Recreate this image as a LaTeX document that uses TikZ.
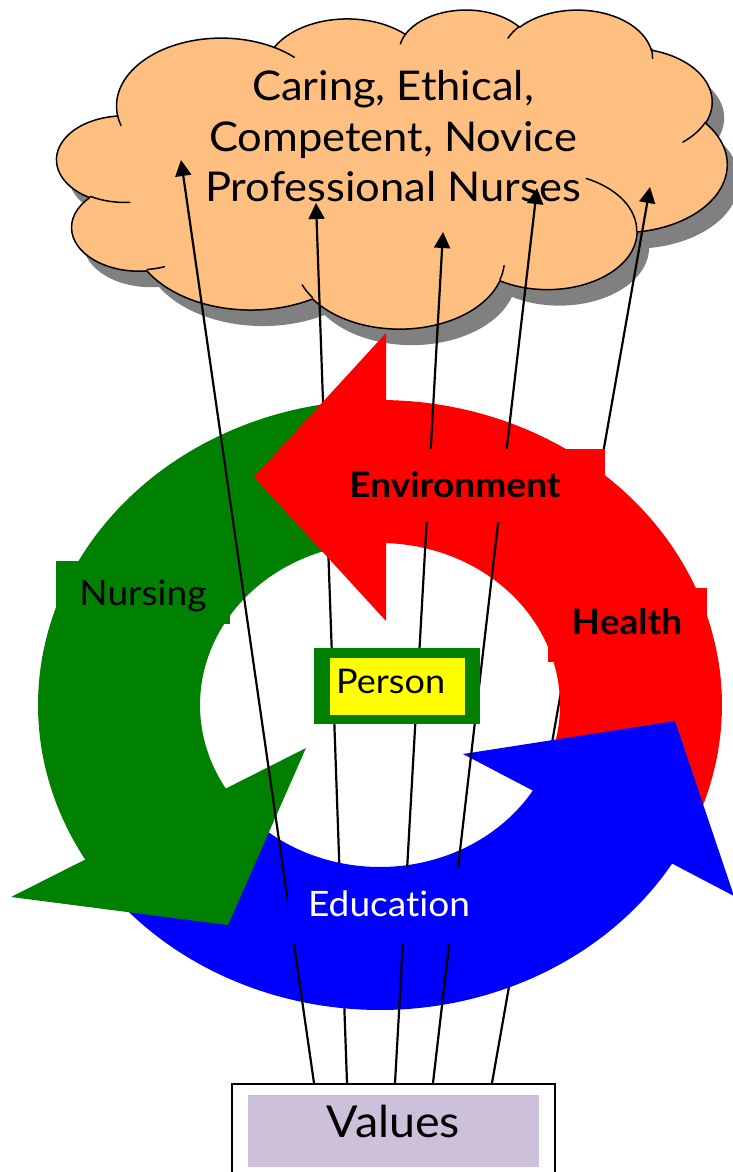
\documentclass[tikz,border=0pt]{standalone}
\usepackage{graphicx}
\usepackage{fontspec}
\setmainfont{Lato}[Ligatures=NoCommon]
\usetikzlibrary{arrows.meta}
\definecolor{cloudfill}{RGB}{255,191,128}
\definecolor{pgreen}{RGB}{0,128,0}
\definecolor{pred}{RGB}{255,0,0}
\definecolor{pblue}{RGB}{0,0,255}
\definecolor{pyellow}{RGB}{255,255,0}
\definecolor{plav}{RGB}{204,192,218}
\definecolor{pshadow}{RGB}{128,128,128}
\newcommand\stretchx[1]{\scalebox{1.06}[1]{#1}}
% DrawingML-style arc: visual angles -> parametric angles
\newcommand\cprep[5]{%
  \pgfmathsetmacro\cpa{atan2((#2)*sin(#4),(#3)*cos(#4))}%
  \pgfmathsetmacro\cpb{atan2((#2)*sin((#4)+(#5)),(#3)*cos((#4)+(#5)))}%
  \pgfmathsetmacro\cpd{\cpb-(\cpa)}%
  \pgfmathsetmacro\cpd{ifthenelse((#5)>0,ifthenelse(\cpd<0,\cpd+360,\cpd),ifthenelse(\cpd>0,\cpd-360,\cpd))}%
  \expandafter\xdef\csname clS#1\endcsname{\cpa}%
  \expandafter\xdef\csname clD#1\endcsname{\cpd}%
}
\newcommand\carc[3]{arc[x radius=#2, y radius=#3, start angle=\csname clS#1\endcsname, delta angle=\csname clD#1\endcsname]}
\newcommand\cloudpath{(39.00,143.70) \carc{a}{67.53}{91.90} \carc{b}{53.33}{72.67} \carc{c}{43.65}{59.45} \carc{d}{48.57}{65.95} \carc{e}{53.33}{72.73} \carc{f}{67.75}{92.20} \carc{g}{57.85}{78.67} \carc{h}{67.52}{92.15} \carc{i}{77.20}{105.43} \carc{j}{43.60}{59.18} \carc{k}{43.45}{59.45} -- cycle}
\newcommand\ringshaft[3]{%
  \fill[#1] plot[domain=#2:#3,samples=90] ({380+342*cos(\x)},{705-305*sin(\x)})
     -- plot[domain=#3:#2,samples=90] ({380+180*cos(\x)},{705-162*sin(\x)}) -- cycle;}
\begin{document}
\begin{tikzpicture}[x=1pt,y=-1pt,
  conn/.style={line width=2.2pt,-{Triangle[length=16pt,width=16pt]}},
  lbl/.style={inner sep=0pt,anchor=base},
  cloudtext/.style={anchor=base,inner sep=0pt,font=\fontsize{41}{49}\selectfont},
  cloudline/.style={line width=1.5pt,line cap=round,line join=round}]
\useasboundingbox (0,0) rectangle (733,1172);
\cprep{a}{67.53}{91.90}{-190.4875}{123.7805}
\cprep{b}{53.33}{72.67}{-144.1024}{89.9452}
\cprep{c}{43.65}{59.45}{-145.8079}{99.7230}
\cprep{d}{48.57}{65.95}{-130.9861}{117.2417}
\cprep{e}{53.33}{72.73}{-78.7089}{109.0269}
\cprep{f}{67.75}{92.20}{-46.2673}{130.2690}
\cprep{g}{57.85}{78.67}{0.6250}{114.0333}
\cprep{h}{67.52}{92.15}{22.4516}{115.1726}
\cprep{i}{77.20}{105.43}{66.2426}{75.7110}
\cprep{j}{43.60}{59.18}{-274.9421}{146.7356}
\cprep{k}{43.45}{59.45}{-246.8285}{152.5189}
\cprep{l}{43.45}{59.45}{86.7420}{26.4295}
\cprep{m}{43.60}{59.18}{73.6105}{11.4475}
\cprep{n}{67.52}{92.15}{137.6242}{14.0811}
\cprep{o}{67.52}{92.15}{6.4533}{15.9984}
\cprep{p}{57.85}{78.67}{-70.2924}{70.9174}
\cprep{q}{53.33}{72.73}{30.3180}{27.7515}
\cprep{r}{48.57}{65.95}{-13.7443}{14.8589}
\cprep{s}{48.57}{65.95}{-149.1815}{18.1954}
\cprep{t}{43.65}{59.45}{-163.4943}{17.6864}
\cprep{u}{67.53}{91.90}{-66.7070}{12.3194}
\cprep{v}{67.53}{91.90}{157.6544}{11.8582}
% cloud
\begin{scope}[shift={(57,9)},x=1.5509pt,y=-0.7384pt]
  \fill[pshadow,shift={(12pt,-16pt)}] \cloudpath;
  \filldraw[fill=cloudfill,draw=black,cloudline] \cloudpath;
  \draw[cloudline] (46.93,261.77) \carc{l}{43.45}{59.45}
     (69.28,348.99) \carc{m}{43.60}{59.18}
     (164.78,390.90) \carc{n}{67.52}{92.15}
     (288.27,347.51) \carc{o}{67.52}{92.15}
     (341.29,229.54) \carc{p}{57.85}{78.67}
     (417.98,153.54) \carc{q}{53.33}{72.73}
     (383.24,54.26) \carc{r}{48.57}{65.95}
     (290.78,39.52) \carc{s}{48.57}{65.95}
     (221.41,47.20) \carc{t}{43.65}{59.45}
     (140.00,51.92) \carc{u}{67.53}{91.90}
     (41.27,157.89) \carc{v}{67.53}{91.90};
\end{scope}
\node[cloudtext] (cl1) at (393,100) {\stretchx{Caring, Ethical,}};
\node[cloudtext] (cl2) at (393,151.5) {\stretchx{Competent, Novice}};
\node[cloudtext] (cl3) at (393,201.5) {\stretchx{Professional Nurses}};
% connector end points
\coordinate (v1) at (314,1083);
\coordinate (v2) at (347,1083);
\coordinate (v3) at (395,1083);
\coordinate (v4) at (433,1083);
\coordinate (v5) at (492,1083);
\coordinate (c1) at (181,160);
\coordinate (c2) at (316,203);
\coordinate (c3) at (443,232);
\coordinate (c4) at (537,188);
\coordinate (c5) at (650,187);
% connectors lying under the ring
\draw[conn] (v2) -- (c2);
\draw[conn] (v5) -- (c5);
% ring of arrows
\ringshaft{pred}{-29}{92}
\ringshaft{pgreen}{91}{212}
\ringshaft{pblue}{212.5}{330.5}
\fill[pred] (386,333) -- (254,477) -- (386,621) -- cycle;
\fill[pgreen] (11,897) -- (228,925) -- (306,748) -- cycle;
\fill[pblue] (463,754) -- (675,721) -- (734,896) -- cycle;
% connectors over the ring
\draw[conn] (v1) -- (c1);
\draw[conn] (v3) -- (c3);
\draw[conn] (v4) -- (c4);
% labels
\node[lbl,fill=pgreen,minimum width=174pt,text height=44pt,text depth=19pt,font=\fontsize{35}{42}\selectfont] (nursing) at (143,605) {\stretchx{Nursing}};
\node[lbl,fill=pred,minimum width=300pt,text height=48pt,text depth=25pt,font=\bfseries\fontsize{35}{42}\selectfont] (environment) at (455,497) {\stretchx{Environment}};
\node[lbl,fill=pred,minimum width=159pt,text height=46pt,text depth=28pt,font=\bfseries\fontsize{35}{42}\selectfont] (health) at (627,634) {\stretchx{Health}};
\node[fill=pgreen,minimum width=166pt,minimum height=76pt,inner sep=0pt] (personframe) at (397,686) {};
\node[anchor=base west,fill=pyellow,inner ysep=0pt,inner xsep=6pt,text width=123pt,align=left,text height=35pt,text depth=22pt,font=\fontsize{34}{40}\selectfont] (person) at (330,693) {\stretchx{Person}};
\node[lbl,fill=pblue,text=white,minimum width=202pt,text height=48pt,text depth=27pt,font=\fontsize{35}{42}\selectfont] (education) at (389,916) {\stretchx{Education}};
\node[draw=black,line width=1.5pt,fill=white,minimum width=323pt,minimum height=110pt,inner sep=0pt,anchor=north] (valuesframe) at (393.5,1083) {};
\node[lbl,fill=plav,minimum width=291pt,text height=42pt,text depth=30pt,font=\fontsize{44}{52}\selectfont] (values) at (393.5,1137) {\stretchx{Values}};
\end{tikzpicture}
\end{document}
